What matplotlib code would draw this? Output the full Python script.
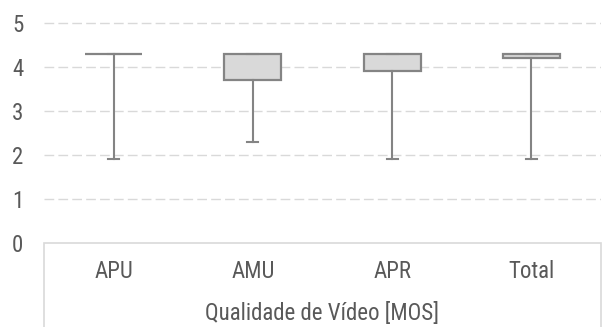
import matplotlib
matplotlib.use('Agg')
import matplotlib.pyplot as plt
from matplotlib.patches import Rectangle

# Box statistics (MOS)
categories = ['APU', 'AMU', 'APR', 'Total']
whisker_low = [1.9, 2.3, 1.9, 1.9]
q1 = [4.3, 3.7, 3.9, 4.2]
median = [4.3, 4.3, 4.3, 4.3]
q3 = [4.3, 4.3, 4.3, 4.3]
whisker_high = [4.3, 4.3, 4.3, 4.3]

TEXT = '#595959'
GRID = '#d9d9d9'
EDGE = '#848484'
FS = 16.5

plt.rcParams['font.family'] = ['Roboto Condensed', 'Liberation Sans', 'DejaVu Sans']

W, H = 603, 327
fig = plt.figure(figsize=(W / 100, H / 100), dpi=100)

# axes: x from 44 to 601 px, y=0 at 243 px, 44 px per unit
left, right = 44, 601
y0 = 243
unit = 44
ytop = 5.5
ax = fig.add_axes([left / W, (H - y0) / H, (right - left) / W, ytop * unit / H])

stats = []
for i, name in enumerate(categories):
    stats.append({'label': name, 'whislo': whisker_low[i], 'q1': q1[i],
                  'med': median[i], 'q3': q3[i], 'whishi': whisker_high[i]})

ax.bxp(stats, positions=range(len(categories)), widths=0.41, capwidths=0.08,
       showfliers=False, patch_artist=True,
       boxprops=dict(facecolor='#d9d9d9', edgecolor=EDGE, linewidth=1.6),
       whiskerprops=dict(color=EDGE, linewidth=1.5),
       capprops=dict(color=EDGE, linewidth=1.5),
       medianprops=dict(color=EDGE, linewidth=1.2))

ax.set_xlim(-0.5, len(categories) - 0.5)
ax.set_ylim(0, ytop)
ax.set_yticks([0, 1, 2, 3, 4, 5])
ax.tick_params(axis='y', length=0, pad=15, labelsize=FS, labelcolor=TEXT)
ax.set_xticks([])
for s in ax.spines.values():
    s.set_visible(False)
for v in [1, 2, 3, 4, 5]:
    ax.axhline(v, color=GRID, linewidth=1.0, dashes=(7, 3), zorder=0)

# category table below the plot
fig.patches.append(Rectangle((left / W, -0.05), (right - left) / W, (H - y0) / H + 0.05,
                             transform=fig.transFigure, fill=False,
                             edgecolor=GRID, linewidth=1.2))
for i, name in enumerate(categories):
    xf = (left + (i + 0.5) * (right - left) / len(categories)) / W
    fig.text(xf, 1 - 272 / H, name, ha='center', va='center',
             fontsize=FS, color=TEXT)
fig.text((left + right) / 2 / W, 1 - 313 / H, 'Qualidade de Vídeo [MOS]',
         ha='center', va='center', fontsize=FS, color=TEXT)

fig.savefig('out.png', dpi=100)
